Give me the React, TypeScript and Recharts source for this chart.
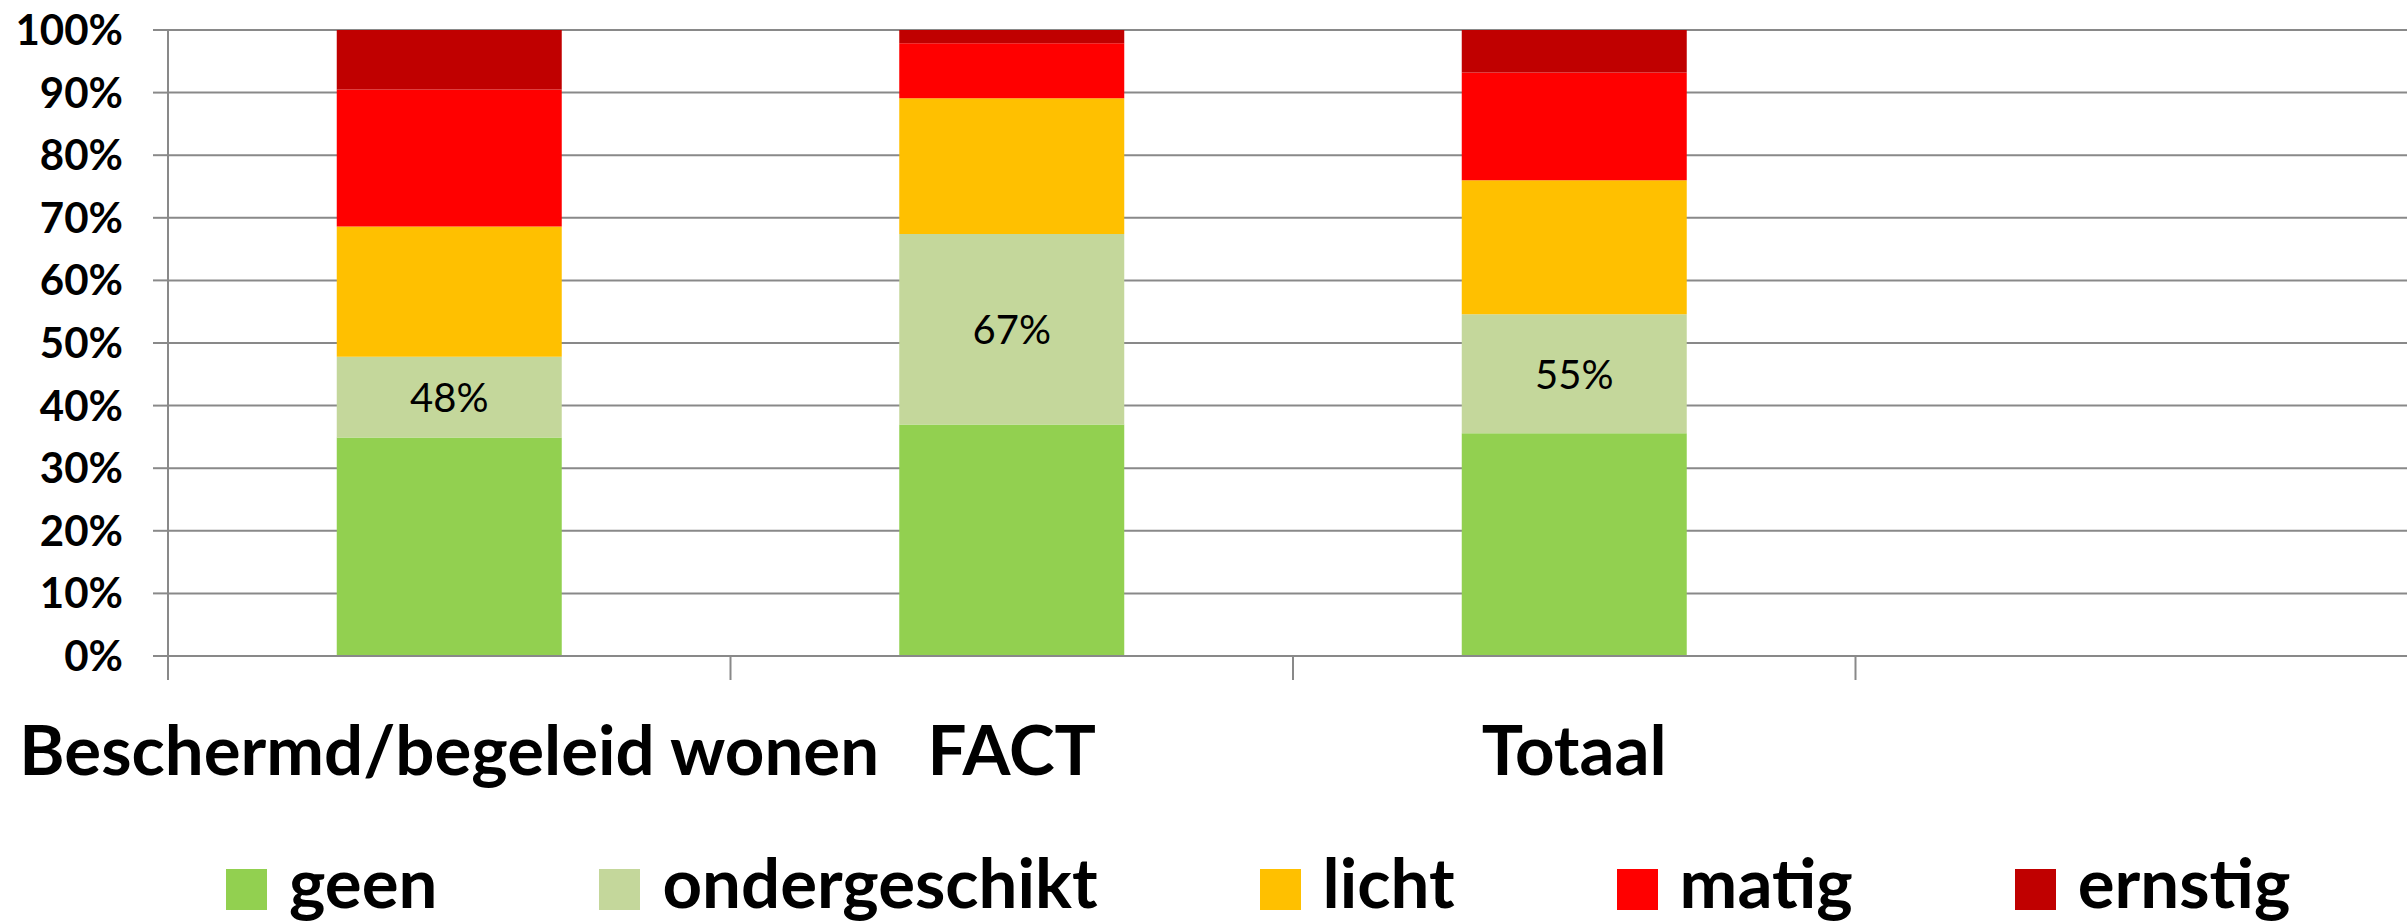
import React from 'react';
import { BarChart, Bar, XAxis, YAxis, CartesianGrid, Legend, LabelList } from 'recharts';

const categories = ['Beschermd/begeleid wonen', 'FACT', 'Totaal', ''];
const geen = [34.9, 37.0, 35.6, null];
const ondergeschikt = [12.9, 30.4, 19.0, null];
const licht = [20.8, 21.7, 21.4, null];
const matig = [21.9, 8.8, 17.2, null];
const ernstig = [9.5, 2.1, 6.8, null];

const seriesNames = ['geen', 'ondergeschikt', 'licht', 'matig', 'ernstig'];
const seriesColors = ['#92D050', '#C4D79B', '#FFC000', '#FF0000', '#C00000'];
const seriesValues = [geen, ondergeschikt, licht, matig, ernstig];
const yTicks = [0, 10, 20, 30, 40, 50, 60, 70, 80, 90, 100];

const data = categories.map((name, i) => {
  const row: any = { name };
  seriesNames.forEach((s, k) => {
    row[s] = seriesValues[k][i];
  });
  return row;
});

const W = 2430;
const H = 924;
const Y_AXIS_W = 168;
const M_RIGHT = 12;
const M_TOP = 30;
const LEGEND_H = 90;
const XAXIS_H = 178;
const GRID = '#898989';
const FONT = 'Lato, "Open Sans", sans-serif';
const BIG = 69;
const BAND = (W - Y_AXIS_W - M_RIGHT) / categories.length;

function XTick(props: any) {
  const { x, y, payload } = props;
  return (
    <g>
      <line x1={x - BAND / 2} x2={x - BAND / 2} y1={y} y2={y + 24} stroke={GRID} strokeWidth={2} />
      <text x={x} y={y + 119} textAnchor="middle" fontFamily={FONT} fontWeight={700} fontSize={BIG} fill="#000">
        {payload.value}
      </text>
    </g>
  );
}

function SumLabel(props: any) {
  const { x, y, width, height, index } = props;
  const a = geen[index];
  const b = ondergeschikt[index];
  if (a == null || b == null) return null;
  return (
    <text
      x={x + width / 2}
      y={y + height / 2}
      textAnchor="middle"
      dominantBaseline="central"
      fontFamily={FONT}
      fontSize={40}
      fill="#000"
    >
      {`${Math.round(a + b)}%`}
    </text>
  );
}

function LegendContent() {
  return (
    <div
      style={{
        height: LEGEND_H,
        display: 'flex',
        paddingLeft: 226,
        paddingTop: 13,
        boxSizing: 'border-box',
        fontFamily: FONT,
        fontWeight: 700,
        fontSize: BIG,
        lineHeight: `${BIG}px`,
        whiteSpace: 'nowrap',
        color: '#000',
        textAlign: 'left',
      }}
    >
      {seriesNames.map((n, i) => (
        <div key={n} style={{ display: 'flex', alignItems: 'flex-start', marginRight: 162 }}>
          <div style={{ width: 41, height: 41, background: seriesColors[i], marginTop: 22, marginRight: 22 }} />
          <span>{n}</span>
        </div>
      ))}
    </div>
  );
}

export default function App() {
  return (
    <div
      style={{
        position: 'absolute',
        left: 0,
        top: 0,
        width: 2407,
        height: 924,
        overflow: 'hidden',
        background: '#fff',
        fontFamily: FONT,
      }}
    >
      <BarChart
        width={W}
        height={H}
        data={data}
        margin={{ top: M_TOP, right: M_RIGHT, left: 0, bottom: 0 }}
        barCategoryGap="30%"
      >
        <CartesianGrid vertical={false} stroke={GRID} strokeWidth={2} />
        <XAxis
          dataKey="name"
          interval={0}
          tick={<XTick />}
          tickLine={false}
          tickSize={0}
          tickMargin={0}
          height={XAXIS_H}
          axisLine={{ stroke: GRID, strokeWidth: 2 }}
        />
        <YAxis
          width={Y_AXIS_W}
          domain={[0, 100]}
          ticks={yTicks}
          interval={0}
          tickFormatter={(v: number) => `${v}%`}
          tickSize={15}
          tickMargin={30}
          tickLine={{ stroke: GRID, strokeWidth: 2 }}
          axisLine={{ stroke: GRID, strokeWidth: 2 }}
          tick={{ fill: '#000', fontSize: 42, fontWeight: 700, fontFamily: FONT }}
        />
        <Legend verticalAlign="bottom" height={LEGEND_H} content={<LegendContent />} />
        {seriesNames.map((s, i) => (
          <Bar key={s} dataKey={s} stackId="a" fill={seriesColors[i]} isAnimationActive={false}>
            {s === 'ondergeschikt' ? <LabelList dataKey={s} content={<SumLabel />} /> : null}
          </Bar>
        ))}
      </BarChart>
    </div>
  );
}
